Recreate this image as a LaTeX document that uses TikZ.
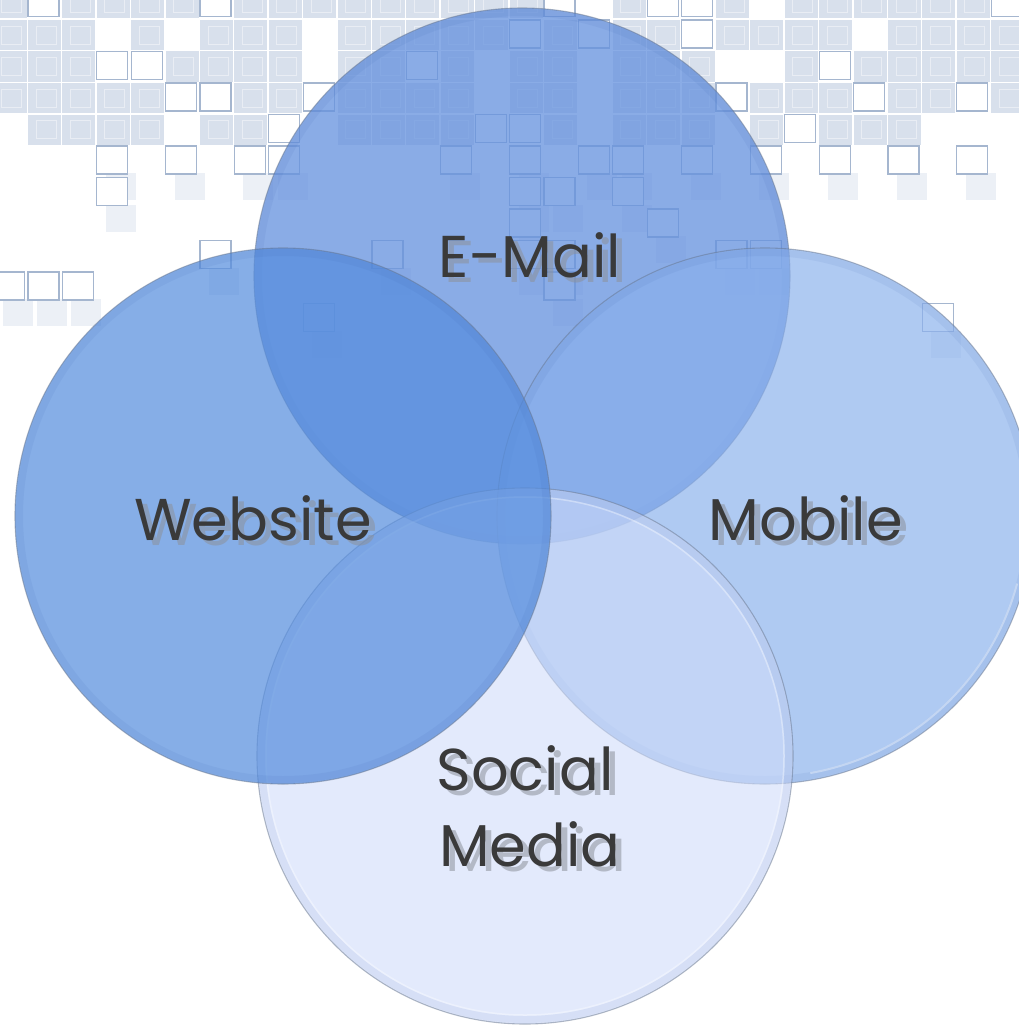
\documentclass[tikz,border=0pt]{standalone}
\usepackage{fontspec}
\setmainfont{Poppins}
\usetikzlibrary{calc}
\definecolor{emailc}{RGB}{100,145,222}
\definecolor{mobilec}{RGB}{137,176,237}
\definecolor{socialc}{RGB}{208,220,250}
\definecolor{webc}{RGB}{85,141,222}
\definecolor{tilec}{RGB}{216,224,236}
\definecolor{tileline}{RGB}{165,182,207}
\definecolor{tilefaint}{RGB}{236,240,246}
\definecolor{rimc}{RGB}{100,115,140}
\definecolor{bandc}{RGB}{50,90,170}
\definecolor{txtc}{RGB}{58,58,58}
\definecolor{shc}{RGB}{140,145,155}
\tikzset{
  bubble/.style={circle, inner sep=0pt, minimum size=536pt, draw=rimc, draw opacity=0.5, line width=1.1pt},
  lbl/.style={anchor=base, text=txtc, font=\fontsize{59}{59}\selectfont, inner sep=0pt},
  lblsh/.style={lbl, text=shc, text opacity=0.55},
  tilebox/.style={fill=tilec},
  tileout/.style={fill=white, draw=tileline, line width=1.1pt},
  tileshade/.style={fill=tilefaint},
  rimband/.style={draw=bandc, draw opacity=0.08, line width=7pt},
}
\begin{document}
\begin{tikzpicture}[x=1pt,y=-1pt]
\useasboundingbox (0,0) rectangle (1019,1025);
\fill[white] (0,0) rectangle (1019,1025);
% background tile pattern
\pgfmathsetseed{4242}
\foreach \j in {0,...,10}{
  \pgfmathsetmacro{\dens}{\j<5 ? 0.9 : (\j<6 ? 0.45 : 0.13)}
  \foreach \i in {0,...,30}{
    \pgfmathsetmacro{\xx}{-6.4+34.4*\i}
    \pgfmathsetmacro{\yy}{-11.5+31.5*\j}
    \pgfmathsetmacro{\ra}{rnd}
    \pgfmathsetmacro{\rb}{rnd}
    \ifdim\ra pt<\dens pt
      \ifnum\j<5
        \ifdim\rb pt<0.15pt
          \path[tileout] (\xx,\yy) rectangle ++(31,28);
        \else
          \path[tilebox] (\xx,\yy) rectangle ++(33,30);
          \draw[white, line width=0.7pt, opacity=0.45] (\xx+8,\yy+6) rectangle ++(20,18);
        \fi
      \else
        \path[tileshade] (\xx+9,\yy+27) rectangle ++(30,27);
        \path[tileout] (\xx,\yy) rectangle ++(31,28);
      \fi
    \fi
  }
}
% circles (bottom to top)
\node[bubble, fill=emailc, fill opacity=0.75] (email) at (522,276) {};
\draw[rimband] (email.center) circle (263.5);
\node[bubble, fill=mobilec, fill opacity=0.67] (mobile) at (765,516) {};
\draw[rimband] (mobile.center) circle (263.5);
\draw[white, opacity=0.35, line width=2pt] (mobile.center) ++(15:261) arc (15:80:261);
\node[bubble, fill=socialc, fill opacity=0.58] (social) at (525,756) {};
\draw[rimband, draw opacity=0.07] (social.center) circle (263.5);
\draw[white, opacity=0.35, line width=1.5pt] (social.center) circle (259);
\node[bubble, fill=webc, fill opacity=0.71] (website) at (283,516) {};
\draw[rimband] (website.center) circle (263.5);
% labels
\coordinate (emailpos) at (530,277);
\coordinate (webpos) at (253,540);
\coordinate (mobpos) at (806,540);
\coordinate (socpos) at (525,790);
\coordinate (medpos) at (530,866);
\node[lblsh] at ($(emailpos)+(6,5)$) {E-Mail};
\node[lbl] (emailtxt) at (emailpos) {E-Mail};
\node[lblsh] at ($(webpos)+(6,5)$) {Website};
\node[lbl] (webtxt) at (webpos) {Website};
\node[lblsh] at ($(mobpos)+(6,5)$) {Mobile};
\node[lbl] (mobtxt) at (mobpos) {Mobile};
\node[lblsh] at ($(socpos)+(6,5)$) {Social};
\node[lbl] (soctxt) at (socpos) {Social};
\node[lblsh] at ($(medpos)+(6,5)$) {Media};
\node[lbl] (medtxt) at (medpos) {Media};
\end{tikzpicture}
\end{document}
